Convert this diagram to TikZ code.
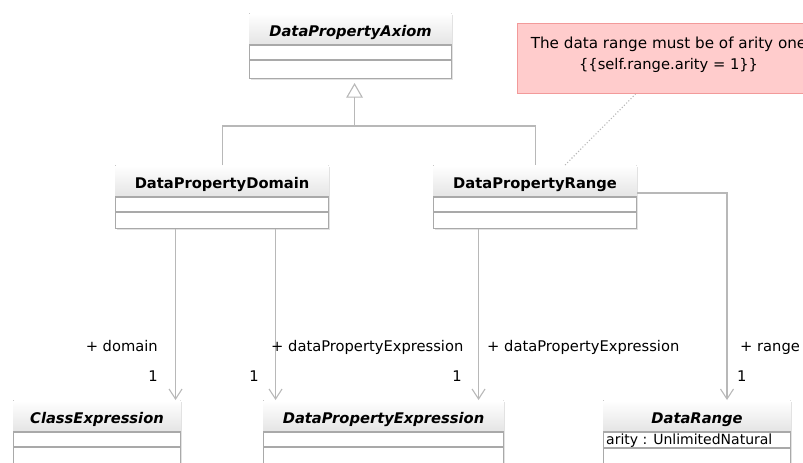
\documentclass[tikz,border=0pt]{standalone}
\usepackage{fontspec}
\setmainfont{DejaVu Sans}
\usetikzlibrary{arrows.meta,calc}

\definecolor{linegray}{HTML}{B8B8B8}
\definecolor{boxgray}{HTML}{A9A9A9}
\definecolor{headgray}{HTML}{E4E4E4}
\definecolor{shadowgray}{HTML}{E2E2E2}
\definecolor{notefill}{HTML}{FFCCCC}
\definecolor{noteborder}{HTML}{F29A9A}

\tikzset{
  every node/.style={inner sep=0pt, font=\fontsize{14.7}{21}\selectfont},
  classbox/.style={draw=boxgray, line width=1.1pt, fill=white},
  compline/.style={draw=boxgray, line width=1.1pt},
  classname/.style={anchor=base, font=\fontsize{14.7}{17}\selectfont\bfseries},
  abstractname/.style={classname, font=\fontsize{14.7}{17}\selectfont\bfseries\itshape},
  connector/.style={draw=linegray, line width=1.1pt},
  genhead/.style={draw=linegray, line width=1.1pt, fill=white, line join=miter},
  association/.style={connector, -{Straight Barb[length=10pt, width=13pt]}},
  notelink/.style={draw=linegray, line width=1.1pt, dotted},
  notebox/.style={draw=noteborder, line width=1.1pt, fill=notefill},
  role/.style={anchor=base west},
  mult/.style={anchor=base east},
}

% class box: name, left x, top y, width, height, title style, title
\newcommand\umlclass[7]{%
  \fill[shadowgray] (#2+2,#3+2) rectangle (#2+#4+2,#3+#5+2);
  \node[classbox, anchor=north west, minimum width=#4pt, minimum height=#5pt] (#1) at (#2,#3) {};
  \shade[top color=white, bottom color=headgray]
    ([shift={(0.6,0.6)}]#1.north west) rectangle ([shift={(-0.6,32)}]#1.north east);
  \draw[compline] ([yshift=-32pt]#1.north west) -- ([yshift=-32pt]#1.north east);
  \draw[compline] ([yshift=-47pt]#1.north west) -- ([yshift=-47pt]#1.north east);
  \node[#6] (#1-title) at ([yshift=-23pt]#1.north) {#7};
}

\begin{document}
\begin{tikzpicture}[x=1pt, y=-1pt]
  \useasboundingbox (0,0) rectangle (803,463);

  % classes
  \umlclass{axiom}{249}{13}{202}{65}{abstractname}{DataPropertyAxiom}
  \umlclass{domain}{115}{165}{213}{63}{classname}{DataPropertyDomain}
  \umlclass{range}{433}{165}{203}{63}{classname}{DataPropertyRange}
  \umlclass{classexpr}{13}{400}{167}{80}{abstractname}{ClassExpression}
  \umlclass{dpexpr}{263}{400}{240}{80}{abstractname}{DataPropertyExpression}

  % DataRange has an attribute row
  \fill[shadowgray] (605,402) rectangle (792,482);
  \node[classbox, anchor=north west, minimum width=187pt, minimum height=80pt] (datarange) at (603,400) {};
  \shade[top color=white, bottom color=headgray]
    ([shift={(0.6,0.6)}]datarange.north west) rectangle ([shift={(-0.6,32)}]datarange.north east);
  \draw[compline] ([yshift=-32pt]datarange.north west) -- ([yshift=-32pt]datarange.north east);
  \draw[compline] ([yshift=-48pt]datarange.north west) -- ([yshift=-48pt]datarange.north east);
  \node[abstractname] (datarange-title) at ([yshift=-23pt]datarange.north) {DataRange};
  \node[anchor=base west, font=\fontsize{14}{17}\selectfont] (arity)
    at ([shift={(3,44)}]datarange.north west) {arity : UnlimitedNatural};

  % constraint note
  \node[notebox, anchor=north west, minimum width=302pt, minimum height=70pt] (note) at (517,23) {};
  \node[align=center] (notetext) at ([yshift=4pt]note.center)
    {\fontsize{15.2}{21}\selectfont The data range must be of arity one\\\{\{self.range.arity = 1\}\}};
  \draw[notelink] ([xshift=30pt]range.north) -- ([xshift=-33pt]note.south);

  % generalization tree: branches meet at the joint, then one line up to the hollow triangle
  \coordinate (joint) at ([xshift=4pt]axiom.south |- 0,126);
  \coordinate (tip) at ([xshift=4pt,yshift=-5pt]axiom.south);
  \coordinate (base) at ([yshift=-13pt]tip);
  \draw[connector] (domain.north) -- (domain.north |- joint) -- (range.north |- joint) -- (range.north);
  \draw[connector] (joint) -- (base);
  \draw[genhead] (tip) -- ([xshift=-7.5pt]base) -- ([xshift=7.5pt]base) -- cycle;

  % associations
  \draw[association] ([xshift=-46.5pt]domain.south) -- ([xshift=-46.5pt]domain.south |- classexpr.north);
  \node[mult] (m1) at (158,381) {1};
  \node[anchor=base east] (r1) at (158,351) {+ domain};

  \draw[association] ([xshift=53.5pt]domain.south) -- ([xshift=53.5pt]domain.south |- dpexpr.north);
  \node[mult] (m2) at (259,381) {1};
  \node[role] (r2) at (271,351) {+ dataPropertyExpression};

  \draw[association] ([xshift=-56.5pt]range.south) -- ([xshift=-56.5pt]range.south |- dpexpr.north);
  \node[mult] (m3) at (462,381) {1};
  \node[role] (r3) at (487,351) {+ dataPropertyExpression};

  \coordinate (bend) at (727,193);
  \draw[association] (range.east |- bend) -- (bend) -- (bend |- datarange.north);
  \node[role] (m4) at (737,381) {1};
  \node[role] (r4) at (740,351) {+ range};
\end{tikzpicture}
\end{document}
